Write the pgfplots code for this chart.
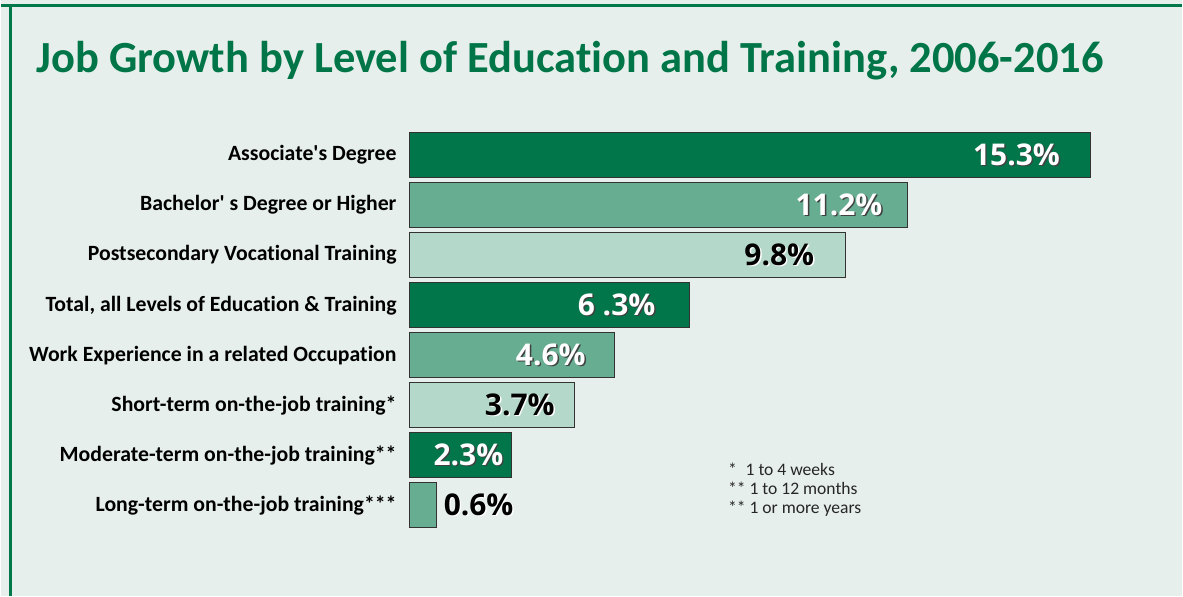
\documentclass[border=0pt]{standalone}
\usepackage{pgfplots}
\pgfplotsset{compat=1.18}
\usepackage{pgfplotstable}
\usepackage{fontspec}
\setmainfont{Carlito}[Ligatures={NoCommon,TeXOff}]
\newfontfamily\valfont{Open Sans}

\definecolor{bgc}{HTML}{E6EFEB}
\definecolor{frame}{HTML}{00784A}
\definecolor{dkg}{HTML}{00764A}
\definecolor{mdg}{HTML}{66AD91}
\definecolor{ltg}{HTML}{B4D8CA}
\definecolor{titlec}{HTML}{007548}

% value label with a small drop shadow
\newcommand\shtext[3]{\makebox[0pt][l]{\hspace{0.7pt}\raisebox{-0.7pt}{\textcolor{#2}{#1}}}\textcolor{#3}{#1}}

\pgfplotstableread[col sep=comma]{
pos,val,off,lab
7,15.3,-15,15.3
4,6.3,-17,6 .3
1,2.3,-4,2.3
}\darkbars
\pgfplotstableread[col sep=comma]{
pos,val,off,lab
6,11.2,-12.5,11.2
3,4.6,-14,4.6
}\midbars
\pgfplotstableread[col sep=comma]{
pos,val,off,lab
5,9.8,-15.5,9.8
2,3.7,-9.5,3.7
}\lightbars
\pgfplotstableread[col sep=comma]{
pos,val,off,lab
0,0.6,39,0.6
}\smallbar

\begin{document}
\begin{tikzpicture}
\fill[bgc] (0,0) rectangle (591.5pt,298.5pt);
\draw[frame, line width=1.3pt] (0,295.6pt) -- (591.5pt,295.6pt);
\draw[frame, line width=1.3pt] (4.6pt,0) -- (4.6pt,296.2pt);
\node[anchor=base west, inner sep=0pt, text=titlec, font=\fontsize{22.3}{26}\selectfont\bfseries]
  at (17.5pt,262pt) {Job Growth by Level of Education and Training, 2006-2016};
\node[anchor=base west, inner sep=0pt, align=left, font=\fontsize{8.8}{9.6}\selectfont, text=black!85]
  at (364pt,41pt) {*\enspace1 to 4 weeks\\** 1 to 12 months\\** 1 or more years};

\begin{axis}[
    at={(204.5pt,32.7pt)}, anchor=south west,
    scale only axis,
    width=379.1pt, height=200.6pt,
    xbar, bar width=22.5pt,
    xmin=0, xmax=17, ymin=-0.5, ymax=7.5,
    axis line style={draw=none},
    tick style={draw=none},
    xtick=\empty,
    ytick={0,...,7},
    yticklabels={Long-term on-the-job training***,
        Moderate-term on-the-job training**,
        Short-term on-the-job training*,
        Work Experience in a related Occupation,
        {Total, all Levels of Education \& Training},
        Postsecondary Vocational Training,
        Bachelor' s Degree or Higher,
        Associate's Degree},
    yticklabel style={font=\fontsize{10.9}{12}\selectfont\bfseries, inner sep=0pt, xshift=-2pt},
    clip=false,
    point meta=explicit symbolic,
    visualization depends on={\thisrow{off} \as \off},
    nodes near coords,
    every node near coord/.append style={anchor=east, xshift=\off pt, inner sep=0pt,
        font=\valfont\fontsize{15}{17}\selectfont\bfseries},
]
\addplot[bar shift=0pt, fill=dkg, draw=black!80, line width=0.5pt,
    nodes near coords={\shtext{\pgfplotspointmeta\%}{black!75}{white}}]
    table[x=val, y=pos, meta=lab]{\darkbars};
\addplot[bar shift=0pt, fill=mdg, draw=black!80, line width=0.5pt,
    nodes near coords={\shtext{\pgfplotspointmeta\%}{black!75}{white}}]
    table[x=val, y=pos, meta=lab]{\midbars};
\addplot[bar shift=0pt, fill=ltg, draw=black!80, line width=0.5pt,
    nodes near coords={\shtext{\pgfplotspointmeta\%}{white}{black}}]
    table[x=val, y=pos, meta=lab]{\lightbars};
\addplot[bar shift=0pt, fill=mdg, draw=black!80, line width=0.5pt,
    nodes near coords={\shtext{\pgfplotspointmeta\%}{white}{black}}]
    table[x=val, y=pos, meta=lab]{\smallbar};
\end{axis}
\end{tikzpicture}
\end{document}
